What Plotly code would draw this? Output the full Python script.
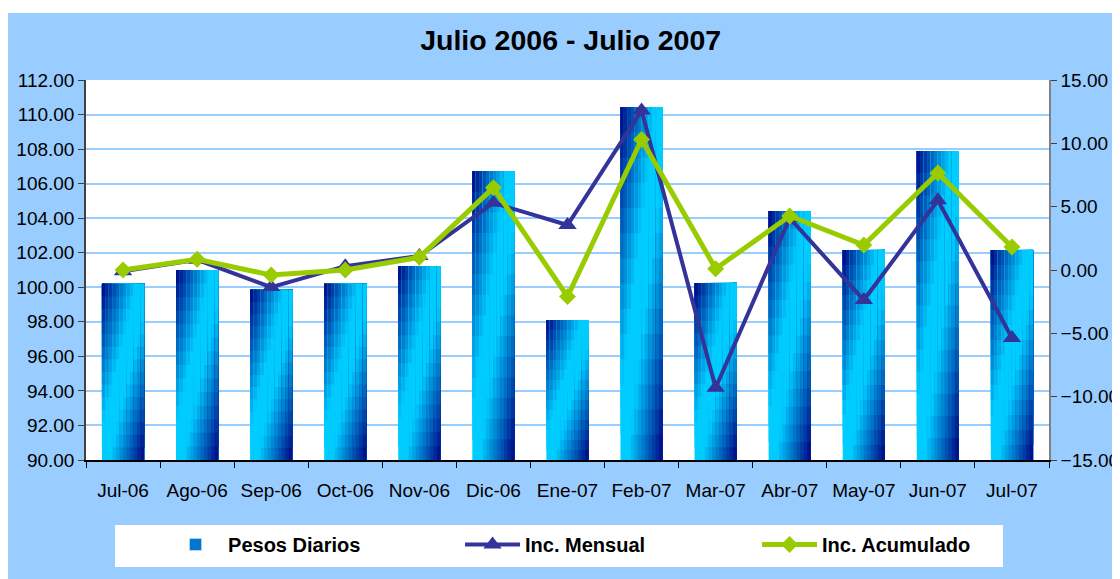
import plotly.graph_objects as go

meses = ["Jul-06", "Ago-06", "Sep-06", "Oct-06", "Nov-06", "Dic-06", "Ene-07",
         "Feb-07", "Mar-07", "Abr-07", "May-07", "Jun-07", "Jul-07"]
pesos = [100.2, 101.0, 99.85, 100.2, 101.23, 106.73, 98.1,
         110.42, 100.25, 104.41, 102.16, 107.89, 102.16]
mensual = [-0.1, 0.8, -1.35, 0.3, 1.1, 5.3, 3.55,
           12.6, -9.3, 4.1, -2.37, 5.5, -5.37]
acumulado = [0.0, 0.85, -0.4, 0.0, 1.0, 6.5, -2.1,
             10.3, 0.1, 4.26, 1.97, 7.66, 1.82]

y_min, y_max = 90, 112
bar_w = 0.57
ncol, nrow = 12, 14
navy = (0, 0, 128)
cyan = (0, 204, 255)


def grad(t):
    # diagonal gradient: navy corners, cyan in the middle band
    s = min(1.0, 1.2 * max(0.0, 1 - abs(2 * t - 1)))
    c = [round(navy[k] + (cyan[k] - navy[k]) * s) for k in range(3)]
    return "rgb({},{},{})".format(*c)


fig = go.Figure()

# each cell reaches to the bar's right edge and top, later ones cover earlier
# ones -> a diagonal gradient without seams
for i in range(ncol):
    for j in range(nrow):
        u = (i + 0.5) / ncol
        v = (nrow - 1 - j + 0.5) / nrow
        base = [y_min + (p - y_min) * j / nrow for p in pesos]
        seg = [p - b for p, b in zip(pesos, base)]
        fig.add_trace(go.Bar(
            x=meses, y=seg, base=base,
            width=bar_w * (ncol - i) / ncol,
            offset=-bar_w / 2 + i * bar_w / ncol,
            marker=dict(color=grad((u + v) / 2), line=dict(width=0)),
            name="Pesos Diarios", legendgroup="pesos",
            showlegend=False, hoverinfo="skip",
        ))

# legend entry for the bars
fig.add_trace(go.Bar(
    x=[None], y=[None], name="Pesos Diarios", legendgroup="pesos",
    marker=dict(color="#0077CC"), hoverinfo="skip",
))

fig.add_trace(go.Scatter(
    x=meses, y=mensual, yaxis="y2", name="Inc. Mensual",
    mode="lines+markers",
    line=dict(color="#333399", width=4),
    marker=dict(symbol="triangle-up", size=16, color="#333399"),
))
fig.add_trace(go.Scatter(
    x=meses, y=acumulado, yaxis="y2", name="Inc. Acumulado",
    mode="lines+markers",
    line=dict(color="#99CC00", width=5),
    marker=dict(symbol="diamond", size=13, color="#99CC00"),
))

# the page body adds 8px around the figure
fig.update_layout(
    width=1112, height=571,
    margin=dict(l=78, r=71, t=72, b=119),
    paper_bgcolor="#99CCFF",
    plot_bgcolor="white",
    barmode="overlay",
    font=dict(family="Liberation Sans, Arial", size=19, color="black"),
    title=dict(text="<b>Julio 2006 - Julio 2007</b>", x=0.506, xanchor="center",
               y=0.944, yanchor="middle", font=dict(size=28.5)),
    xaxis=dict(type="category", range=[-0.5, len(meses) - 0.5],
               showline=True, linecolor="black", linewidth=1.5,
               ticks="outside", tickson="boundaries", ticklen=6, tickcolor="black",
               ticklabelstandoff=12, tickangle=0, showgrid=False, automargin=False),
    yaxis=dict(range=[y_min, y_max], dtick=2, tickformat=".2f",
               showline=True, linecolor="#404040", linewidth=1.5,
               ticks="outside", ticklen=6, tickcolor="#404040",
               gridcolor="#99CCFF", gridwidth=1.5, zeroline=False, automargin=False),
    yaxis2=dict(range=[-15, 15], dtick=5, tickformat=".2f", overlaying="y",
                side="right", showline=True, linecolor="#808080", linewidth=1.5,
                ticks="outside", ticklen=6, tickcolor="#404040",
                showgrid=False, zeroline=False, automargin=False),
    legend=dict(orientation="h", x=0.08, xanchor="left", y=-0.171, yanchor="top",
                bgcolor="rgba(0,0,0,0)", font=dict(size=20, weight="bold"),
                itemwidth=55, entrywidth=227, entrywidthmode="pixels",
                itemclick=False),
    shapes=[
        dict(type="rect", xref="paper", yref="paper", x0=-0.2, x1=1.2,
             y0=(452 - 5) / 380, y1=1.5, fillcolor="white", line=dict(width=0),
             layer="below"),
        # legend box
        dict(type="rect", xref="paper", yref="paper", x0=(115 - 86) / 963,
             x1=(1003 - 86) / 963, y0=(460 - 567) / 380, y1=(460 - 525) / 380,
             fillcolor="white", line=dict(width=0), layer="below"),
    ],
)

fig.write_html("out.html")
